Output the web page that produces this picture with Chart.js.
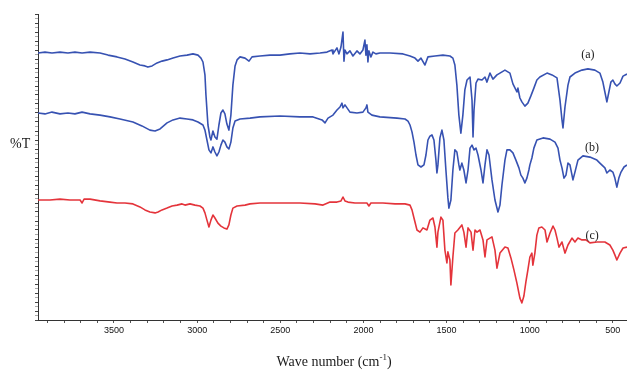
<!DOCTYPE html>
<html>
<head>
<meta charset="utf-8">
<title>IR spectra</title>
<script src="https://cdn.jsdelivr.net/npm/chart.js@4.4.0/dist/chart.umd.min.js"></script>
<style>
  html, body { margin: 0; padding: 0; background: #fff; }
  #wrap { width: 627px; height: 370px; }
</style>
</head>
<body>
<div id="wrap"><canvas id="ir-chart" width="627" height="370"></canvas></div>
<script>
'use strict';

// *************** DATA (wave number in cm-1, transmittance in %T, offset per trace)

// trace (a)
let waveA = [
  3957, 3915, 3873, 3825, 3777, 3735, 3692, 3644, 3584, 3536,
  3482, 3434, 3386, 3344, 3314, 3296, 3271, 3241, 3211, 3181,
  3145, 3103, 3061, 3025, 2995, 2977, 2965, 2953, 2947, 2935,
  2923, 2917, 2905, 2893, 2881, 2869, 2857, 2845, 2833, 2821,
  2809, 2797, 2785, 2772, 2760, 2742, 2712, 2688, 2670, 2622,
  2562, 2502, 2442, 2382, 2321, 2261, 2219, 2189, 2183, 2159,
  2147, 2135, 2123, 2117, 2111, 2099, 2081, 2063, 2039, 2021,
  2003, 1991, 1985, 1979, 1973, 1967, 1955, 1943, 1925, 1901,
  1840, 1762, 1720, 1690, 1672, 1654, 1630, 1612, 1570, 1522,
  1480, 1462, 1450, 1438, 1426, 1414, 1402, 1390, 1377, 1359,
  1347, 1341, 1335, 1323, 1311, 1287, 1269, 1257, 1239, 1221,
  1197, 1179, 1149, 1119, 1101, 1083, 1077, 1071, 1059, 1047,
  1029, 1011, 993, 975, 957, 939, 896, 866, 836, 818,
  806, 800, 788, 770, 758, 728, 686, 650, 608, 578,
  560, 548, 536, 524, 512, 500, 488, 476, 457, 439,
  415
];
let transA = [
  89.0, 89.3, 89.0, 89.3, 89.0, 89.3, 89.0, 89.3, 89.0, 88.3,
  87.7, 87.0, 86.0, 85.0, 84.7, 84.3, 84.7, 85.7, 86.3, 86.7,
  87.3, 88.0, 88.3, 88.7, 88.3, 87.3, 86.0, 81.7, 75.0, 65.0,
  61.0, 60.0, 63.0, 61.0, 60.3, 65.0, 69.0, 70.0, 68.7, 65.3,
  63.3, 68.3, 78.3, 84.7, 86.7, 87.7, 87.3, 86.3, 87.7, 88.0,
  88.3, 88.3, 88.7, 89.0, 88.7, 89.0, 89.3, 90.0, 88.7, 90.7,
  88.7, 91.0, 96.0, 86.3, 90.0, 88.7, 89.7, 88.0, 89.7, 88.7,
  90.0, 93.3, 88.3, 91.7, 86.0, 89.7, 87.7, 89.3, 88.7, 89.0,
  89.0, 88.7, 88.0, 87.3, 86.3, 87.3, 85.0, 87.7, 88.0, 88.3,
  88.0, 87.3, 85.0, 78.3, 68.3, 62.3, 68.3, 76.7, 80.0, 81.0,
  73.3, 61.0, 70.0, 79.0, 80.3, 80.0, 81.0, 79.3, 82.3, 80.3,
  81.7, 82.3, 83.3, 82.3, 78.7, 76.7, 76.0, 77.3, 74.0, 72.7,
  71.3, 72.3, 74.7, 77.3, 80.0, 81.0, 82.3, 81.7, 80.7, 73.3,
  66.7, 64.0, 71.0, 78.3, 81.0, 82.3, 83.3, 83.7, 83.3, 82.3,
  79.3, 76.0, 72.7, 76.0, 79.3, 80.0, 78.7, 78.0, 79.0, 81.3,
  82.0
];

// trace (b)
let waveB = [
  3957, 3915, 3873, 3825, 3777, 3735, 3692, 3644, 3584, 3524,
  3464, 3386, 3332, 3284, 3253, 3223, 3181, 3145, 3103, 3061,
  3025, 2995, 2965, 2953, 2941, 2929, 2917, 2905, 2893, 2881,
  2869, 2857, 2845, 2833, 2821, 2809, 2797, 2785, 2772, 2742,
  2682, 2622, 2502, 2382, 2303, 2249, 2231, 2213, 2183, 2159,
  2141, 2129, 2123, 2111, 2081, 2039, 2003, 1985, 1979, 1973,
  1949, 1901, 1798, 1750, 1732, 1720, 1708, 1696, 1684, 1672,
  1654, 1636, 1624, 1612, 1600, 1588, 1576, 1564, 1558, 1552,
  1540, 1528, 1516, 1504, 1492, 1486, 1474, 1462, 1450, 1438,
  1426, 1420, 1408, 1396, 1383, 1371, 1359, 1347, 1335, 1323,
  1311, 1293, 1281, 1269, 1257, 1245, 1227, 1209, 1191, 1179,
  1167, 1149, 1137, 1119, 1101, 1083, 1065, 1053, 1041, 1029,
  1017, 1005, 999, 987, 975, 957, 920, 878, 848, 830,
  818, 806, 794, 782, 770, 758, 740, 728, 710, 680,
  638, 596, 578, 548, 536, 518, 500, 488, 476, 464,
  451, 433, 415
];
let transB = [
  69.0, 68.7, 69.3, 68.7, 69.0, 68.7, 69.3, 68.7, 68.3, 67.7,
  67.0, 66.0, 64.7, 63.3, 63.0, 63.7, 65.7, 66.7, 67.3, 67.0,
  66.7, 66.0, 65.0, 63.3, 60.0, 56.7, 55.7, 57.7, 56.0, 54.7,
  56.0, 58.3, 60.0, 59.3, 57.7, 57.0, 59.3, 64.0, 66.3, 67.0,
  67.3, 67.7, 68.0, 67.7, 67.7, 66.7, 65.7, 67.3, 68.3, 70.0,
  71.0, 72.3, 70.7, 71.7, 69.3, 69.0, 69.3, 70.7, 71.7, 69.3,
  68.3, 67.7, 67.3, 67.0, 66.3, 65.0, 62.7, 59.3, 55.0, 51.7,
  51.0, 51.7, 55.0, 60.0, 61.3, 61.7, 60.0, 53.3, 49.0, 51.7,
  60.7, 63.3, 60.0, 50.0, 40.7, 37.3, 40.0, 50.0, 56.7, 56.0,
  51.7, 50.0, 52.3, 50.0, 45.7, 50.0, 57.3, 58.3, 56.7, 57.3,
  55.0, 50.0, 45.7, 51.7, 56.7, 55.0, 46.7, 40.0, 36.0, 38.3,
  45.0, 53.3, 56.7, 56.7, 55.7, 53.3, 50.7, 48.3, 47.3, 45.7,
  47.3, 50.0, 51.7, 54.0, 57.3, 60.0, 60.7, 60.3, 59.3, 57.3,
  53.3, 50.7, 47.3, 48.3, 52.3, 51.7, 46.7, 49.3, 53.3, 54.7,
  54.3, 53.3, 52.3, 50.7, 49.0, 50.0, 49.3, 47.3, 44.3, 47.3,
  49.3, 51.0, 51.7
];

// trace (c)
let waveC = [
  3957, 3885, 3825, 3765, 3704, 3692, 3680, 3644, 3584, 3524,
  3482, 3434, 3386, 3344, 3314, 3284, 3253, 3235, 3211, 3181,
  3151, 3121, 3091, 3073, 3043, 3013, 2983, 2965, 2953, 2941,
  2929, 2917, 2905, 2893, 2875, 2857, 2839, 2821, 2809, 2797,
  2785, 2760, 2712, 2682, 2622, 2502, 2382, 2291, 2243, 2201,
  2159, 2135, 2123, 2111, 2093, 2051, 1979, 1967, 1955, 1883,
  1810, 1750, 1720, 1708, 1696, 1678, 1660, 1642, 1618, 1600,
  1582, 1570, 1558, 1552, 1534, 1522, 1510, 1498, 1492, 1480,
  1474, 1462, 1450, 1432, 1408, 1396, 1383, 1371, 1353, 1341,
  1329, 1317, 1299, 1281, 1269, 1257, 1227, 1209, 1197, 1179,
  1149, 1131, 1113, 1095, 1077, 1059, 1047, 1035, 1023, 1011,
  999, 987, 981, 969, 957, 945, 927, 908, 896, 878,
  860, 848, 836, 824, 806, 788, 770, 746, 728, 710,
  686, 662, 638, 596, 548, 518, 500, 488, 476, 457,
  439, 415
];
let transC = [
  40.0, 40.0, 40.3, 40.0, 40.0, 39.0, 40.3, 40.3, 39.7, 39.3,
  39.0, 39.0, 38.7, 37.7, 36.7, 36.0, 35.7, 36.0, 36.7, 37.3,
  38.0, 38.3, 38.7, 38.3, 38.7, 38.3, 38.0, 37.3, 35.7, 33.3,
  31.0, 33.3, 35.0, 34.0, 32.3, 31.3, 30.7, 30.3, 31.7, 35.0,
  37.3, 38.0, 38.3, 38.7, 39.0, 39.0, 39.0, 38.7, 38.3, 39.3,
  39.3, 39.7, 41.0, 39.7, 39.3, 39.0, 39.0, 38.0, 39.0, 39.0,
  38.7, 38.7, 38.3, 36.7, 34.0, 30.0, 29.3, 30.7, 30.0, 33.3,
  34.0, 31.0, 24.3, 29.3, 34.3, 33.3, 23.3, 19.0, 22.7, 20.0,
  11.7, 21.0, 29.0, 30.0, 31.7, 29.3, 24.3, 30.7, 29.3, 23.3,
  30.0, 29.3, 30.0, 26.7, 21.0, 26.7, 27.7, 23.3, 17.3, 22.3,
  24.3, 24.0, 20.7, 16.7, 12.3, 7.3, 5.7, 8.0, 12.7, 16.7,
  21.0, 22.3, 18.3, 22.3, 28.3, 30.7, 31.0, 30.0, 26.0, 29.0,
  31.3, 30.0, 27.3, 24.3, 26.0, 22.3, 25.0, 27.3, 26.0, 27.3,
  26.7, 26.7, 25.7, 26.0, 26.0, 25.0, 23.3, 21.7, 20.0, 22.3,
  24.0, 24.3
];

// axis labels along the wave number axis
let waveLabels = [3500, 3000, 2500, 2000, 1500, 1000, 500];
let seriesNames = ['(a)', '(b)', '(c)'];

// *************** HELPERS
function toPoints(waves, trans) {
  let pts = [];
  for (let i = 0; i < waves.length; i++) {
    pts.push({ x: waves[i], y: trans[i] });
  }
  return pts;
}

// minor tick every 100 cm-1 on x, every 1.5 %T on y
let xTicks = [];
for (let v = 500; v <= 3900; v += 100) {
  xTicks.push({ value: v });
}
let yTicks = [];
for (let v = 0; v <= 102; v += 1.5) {
  yTicks.push({ value: v });
}

// *************** TEXT PLUGIN (axis titles + trace tags)
let spectrumText = {
  id: 'spectrumText',
  afterDraw(chart) {
    let ctx = chart.ctx;
    let xs = chart.scales.x;
    let ys = chart.scales.y;
    ctx.save();
    ctx.fillStyle = '#1a1a1a';
    ctx.textBaseline = 'alphabetic';

    ctx.font = '14px "Liberation Serif"';
    ctx.textAlign = 'left';
    ctx.fillText('%T', 10, 148);

    // Wave number (cm-1) with raised -1
    let main = 'Wave number (cm';
    let sup = '-1';
    let close = ')';
    ctx.font = '14px "Liberation Serif"';
    let w1 = ctx.measureText(main).width;
    let w3 = ctx.measureText(close).width;
    ctx.font = '9px "Liberation Serif"';
    let w2 = ctx.measureText(sup).width;
    let start = 334 - (w1 + w2 + w3) / 2;
    ctx.font = '14px "Liberation Serif"';
    ctx.fillText(main, start, 366);
    ctx.font = '9px "Liberation Serif"';
    ctx.fillText(sup, start + w1, 360);
    ctx.font = '14px "Liberation Serif"';
    ctx.fillText(close, start + w1 + w2, 366);

    // trace tags
    let tagAt = [[650, 88.3], [625, 57.3], [625, 28.0]];
    ctx.font = '12px "Liberation Serif"';
    ctx.textAlign = 'center';
    ctx.textBaseline = 'middle';
    for (let i = 0; i < seriesNames.length; i++) {
      ctx.fillText(seriesNames[i], xs.getPixelForValue(tagAt[i][0]), ys.getPixelForValue(tagAt[i][1]));
    }
    ctx.restore();
  }
};

// *************** CHART
let blue = '#3752b2';
let red = '#e4343b';

let chartObj = {
  type: 'line',
  data: {
    datasets: [
      { label: seriesNames[0], data: toPoints(waveA, transA), borderColor: blue },
      { label: seriesNames[1], data: toPoints(waveB, transB), borderColor: blue },
      { label: seriesNames[2], data: toPoints(waveC, transC), borderColor: red }
    ]
  },
  options: {
    responsive: false,
    animation: false,
    devicePixelRatio: 1,
    layout: { padding: { top: 14, left: 0, right: 0, bottom: 0 } },
    elements: {
      point: { radius: 0 },
      line: { borderWidth: 1.6, tension: 0, fill: false, borderJoinStyle: 'round' }
    },
    plugins: {
      legend: { display: false },
      tooltip: { enabled: false }
    },
    scales: {
      x: {
        type: 'linear',
        reverse: true,
        min: 415,
        max: 3957,
        afterBuildTicks: function (scale) { scale.ticks = xTicks; },
        afterFit: function (scale) { scale.height = 50; },
        ticks: {
          autoSkip: false,
          maxRotation: 0,
          padding: 2,
          color: '#111',
          font: { family: 'Liberation Sans', size: 9 },
          callback: function (value) {
            return waveLabels.includes(value) ? String(value) : '';
          }
        },
        grid: { drawOnChartArea: false, drawTicks: true, tickLength: 3, tickColor: '#555' },
        border: { display: true, color: '#333', width: 1 }
      },
      y: {
        min: 0,
        max: 102,
        afterBuildTicks: function (scale) { scale.ticks = yTicks; },
        afterFit: function (scale) { scale.width = 38; },
        ticks: { display: false },
        grid: {
          drawOnChartArea: false,
          drawTicks: true,
          tickLength: 3,
          tickColor: function (c) { return c.index % 2 === 0 ? '#444' : '#aaa'; }
        },
        border: { display: true, color: '#333', width: 1 }
      }
    }
  },
  plugins: [spectrumText]
};

new Chart(document.getElementById('ir-chart'), chartObj); // eslint-disable-line
</script>
</body>
</html>
